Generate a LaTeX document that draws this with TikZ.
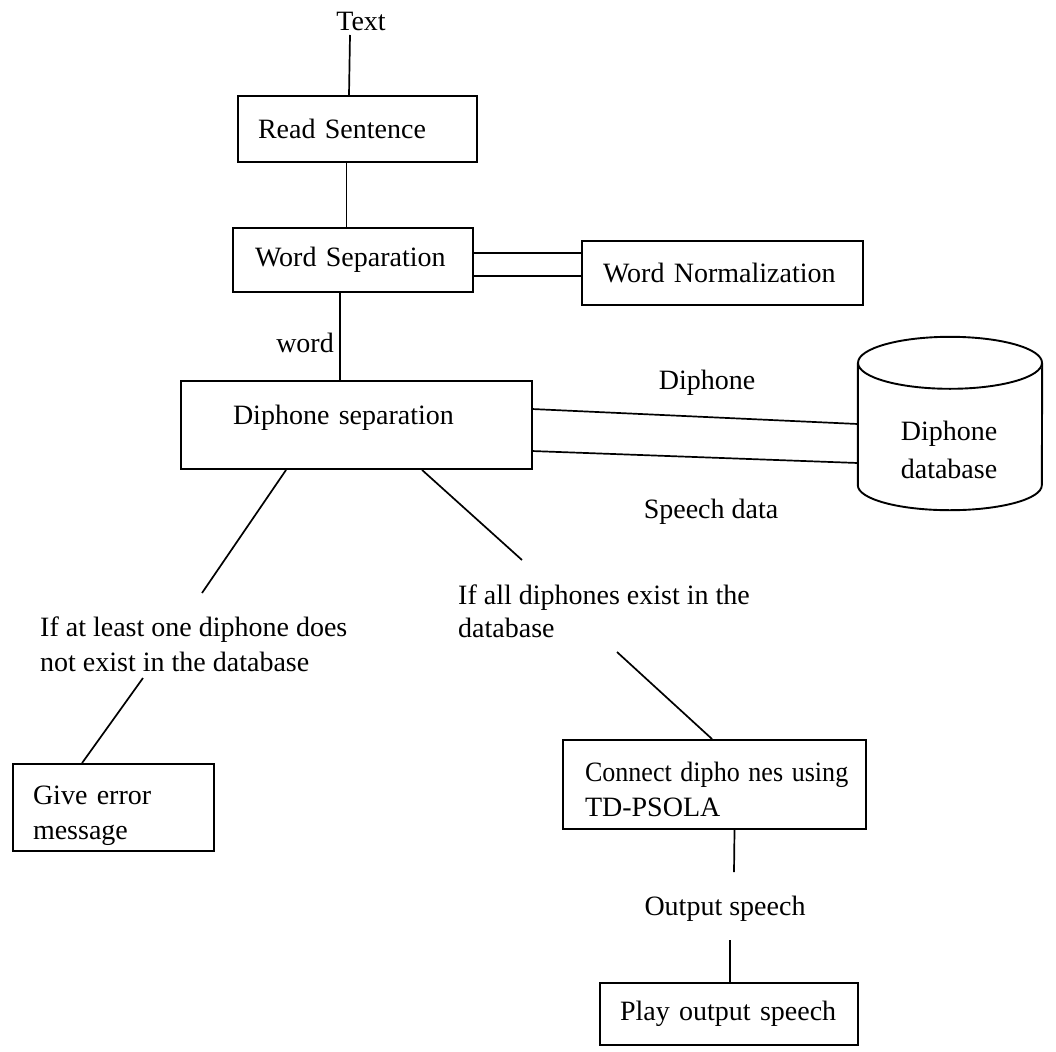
\documentclass[tikz,border=0pt]{standalone}
\usepackage{fontspec}
\setmainfont{Liberation Serif}
\usepackage{graphicx}
\begin{document}
\begin{tikzpicture}[x=1pt,y=-1pt,
  every node/.style={font=\fontsize{28}{35}\selectfont, inner sep=0pt},
  box/.style={draw, line width=1.9pt, align=left, inner ysep=0pt},
  conn/.style={line width=1.7pt},
  dbline/.style={line width=1.9pt}]
\useasboundingbox (0,0) rectangle (1056,1051);

% top chain
\node[anchor=base] (txt) at (361,31) {Text};
\node[box, text width=199pt, inner xsep=20pt, minimum height=66pt] (rs) at (357.5,129) {Read Sentence};
\draw[conn] ([shift={(-11pt,-4pt)}]txt.base) -- ([xshift=-8.5pt]rs.north);

\node[box, text width=196pt, inner xsep=22pt, minimum height=64pt] (ws) at (353,260) {Word Separation};
\draw[conn] ([xshift=-11pt]rs.south) -- ([xshift=-11pt]rs.south |- ws.north);

\node[box, text width=239pt, inner xsep=21pt, minimum height=64pt] (wn) at (722.5,273) {Word Normalization};
\draw[conn] ([yshift=-26pt]ws.north east) -- ([yshift=-26pt]ws.north east -| wn.west);
\draw[conn] ([yshift=-49pt]ws.north east) -- ([yshift=-49pt]ws.north east -| wn.west);

\node[box, text width=247pt, inner xsep=52pt, minimum height=88pt] (ds) at (356.5,425) {\raisebox{20pt}{Diphone separation}};
\draw[conn] ([xshift=-13pt]ws.south) -- ([xshift=-13pt]ws.south |- ds.north);
\node[anchor=base east] (wl) at (334,352) {word};

% database cylinder
\node[minimum width=184pt, minimum height=122pt] (db) at (950,424) {};
\draw[dbline] (db.north west) -- (db.south west) arc[start angle=180, end angle=360, x radius=92pt, y radius=25pt] -- (db.north east);
\draw[dbline] (db.north) ellipse [x radius=92pt, y radius=26pt];
\node[align=center, anchor=north, font=\fontsize{28}{38}\selectfont] (dbt) at (949,421) {Diphone\\database};

\draw[conn] ([yshift=-29pt]ds.north east) -- (db.west);
\draw[conn] ([yshift=-71pt]ds.north east) -- ([yshift=-39pt]db.west);
\node[anchor=base] (dph) at (707,389) {Diphone};
\node[anchor=base] (spd) at (711,518) {Speech data};

% branches
\coordinate (l1) at (202,593);
\coordinate (r1) at (522,560);
\coordinate (l2) at (143,678);
\coordinate (r2) at (617,652);
\draw[conn] ([xshift=106pt]ds.south west) -- (l1);
\draw[conn] ([xshift=242pt]ds.south west) -- (r1);
\node[align=left, anchor=north west] (lt) at (40,617) {If at least one diphone does\\not exist in the database};
\node[align=left, anchor=north west, font=\fontsize{28}{33}\selectfont] (rt) at (458,585) {If all diphones exist in the\\database};

\node[box, text width=161pt, inner xsep=20pt, minimum height=87pt] (ge) at (113.5,807.5) {\rule{0pt}{35pt}Give error\\message};
\draw[conn] (l2) -- ([xshift=70pt]ge.north west);

\node[box, text width=259pt, inner xsep=22pt, minimum height=89pt] (cd) at (714.5,784.5) {\rule{0pt}{29.4pt}\scalebox{0.93}[1]{Connect dipho nes using}\\TD-PSOLA};
\draw[conn] (r2) -- ([xshift=150pt]cd.north west);

\coordinate (o1) at (734,872);
\draw[conn] ([xshift=20pt]cd.south) -- (o1);
\node[anchor=base] (osp) at (725,915) {Output speech};
\coordinate (o2) at (730,940);
\node[box, text width=218pt, inner xsep=20pt, minimum height=62pt] (pl) at (729,1014) {Play output speech};
\draw[conn] (o2) -- (o2 |- pl.north);
\end{tikzpicture}
\end{document}
